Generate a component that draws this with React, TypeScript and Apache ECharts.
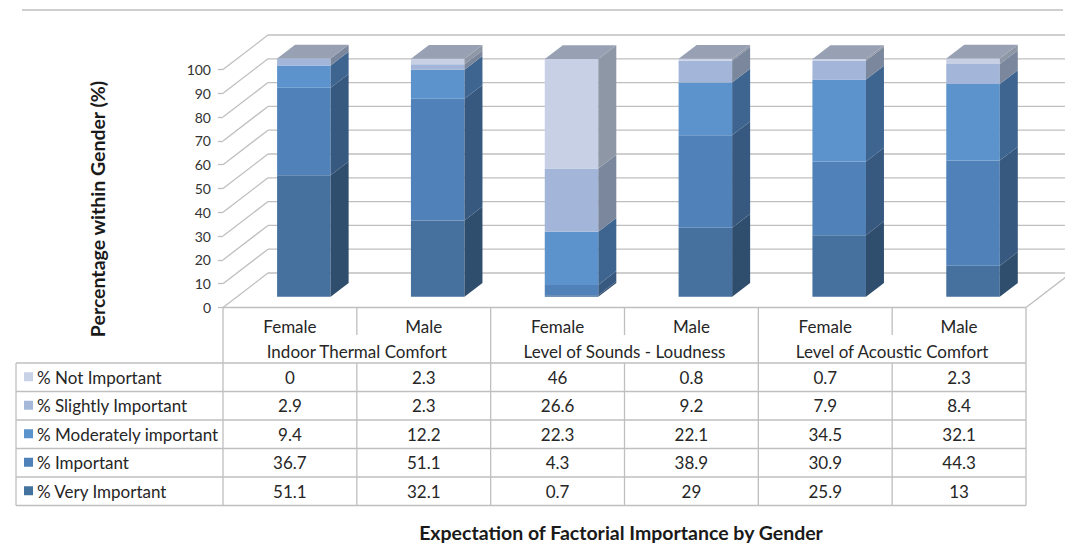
import React, { useEffect, useRef } from "react";
import * as echarts from "echarts";

// ---------------- data ----------------
const categories = ["Female", "Male", "Female", "Male", "Female", "Male"];
const groups = ["Indoor Thermal Comfort", "Level of Sounds - Loudness", "Level of Acoustic Comfort"];
const levelNames = [
  "% Not Important",
  "% Slightly Important",
  "% Moderately important",
  "% Important",
  "% Very Important",
];
const notImportant = [0, 2.3, 46, 0.8, 0.7, 2.3];
const slightlyImportant = [2.9, 2.3, 26.6, 9.2, 7.9, 8.4];
const moderatelyImportant = [9.4, 12.2, 22.3, 22.1, 34.5, 32.1];
const important = [36.7, 51.1, 4.3, 38.9, 30.9, 44.3];
const veryImportant = [51.1, 32.1, 0.7, 29, 25.9, 13];
const yTicks = [0, 10, 20, 30, 40, 50, 60, 70, 80, 90, 100];
const chartTitle = "Expectation of Factorial Importance by Gender";
const yTitle = "Percentage within Gender (%)";

// table order (top to bottom)
const tableRows = [notImportant, slightlyImportant, moderatelyImportant, important, veryImportant];
const frontColors = ["#c7d0e4", "#a3b6da", "#5c93cc", "#5081b8", "#46719e"];
const sideColors = ["#8e97a5", "#7a879c", "#3e6590", "#37597f", "#2f4d6d"];
const legendColors = ["#c8d2e6", "#a5b8da", "#5b93cd", "#4f81b9", "#44729f"];
const topColor = "#98a1b3";

// ---------------- layout / style ----------------
const W = 1065;
const H = 550;
const GRID_LEFT = 223;
const GRID_RIGHT_X = 1026;
const Y0 = 307.5;
const Y100 = 69.5;
const DX = 45;
const DY = 34.5;
const BAR_W = 0.4;
const BAR_OFF = 0.31;
const BAR_DEPTH = 0.4;
const FONT = "Lato, 'Open Sans', sans-serif";
const TEXT_COLOR = "#262626";
const LINE_COLOR = "#bfbfbf";
const TABLE_LEFT = 16;
const HEADER_MID = 335;
const ROW_TOP = 363;
const ROW_H = 28.5;
const TABLE_FS = 17;

// stacking order bottom -> top
const stackOrder = [4, 3, 2, 1, 0]; // indices into tableRows

function buildBarData(levelIdx: number) {
  const pos = stackOrder.indexOf(levelIdx);
  return categories.map((_, i) => {
    let base = 0;
    for (let k = 0; k < pos; k++) base += tableRows[stackOrder[k]][i];
    return [i, base, tableRows[levelIdx][i]];
  });
}

const totals = categories.map((_, i) => tableRows.reduce((s, r) => s + r[i], 0));

function barRender(levelIdx: number) {
  return (params: any, api: any) => {
    const cat = api.value(0);
    const base = api.value(1);
    const val = api.value(2);
    if (!(val > 0)) return { type: "group", children: [] };
    const p0 = api.coord([cat, base]);
    const p1 = api.coord([cat, base + val]);
    const band = api.size([1, 0])[0];
    const bw = band * BAR_W;
    const ox = DX * BAR_OFF;
    const oy = DY * BAR_OFF;
    const x0 = p0[0] - bw / 2 + ox;
    const yb = p0[1] - oy;
    const yt = p1[1] - oy;
    const ddx = DX * BAR_DEPTH;
    const ddy = DY * BAR_DEPTH;
    return {
      type: "group",
      children: [
        {
          type: "rect",
          shape: { x: x0, y: yt, width: bw, height: yb - yt },
          style: { fill: frontColors[levelIdx] },
        },
        {
          type: "polygon",
          shape: {
            points: [
              [x0 + bw, yb],
              [x0 + bw + ddx, yb - ddy],
              [x0 + bw + ddx, yt - ddy],
              [x0 + bw, yt],
            ],
          },
          style: { fill: sideColors[levelIdx] },
        },
      ],
    };
  };
}

function topRender(params: any, api: any) {
  const cat = api.value(0);
  const total = api.value(1);
  const p1 = api.coord([cat, total]);
  const band = api.size([1, 0])[0];
  const bw = band * BAR_W;
  const x0 = p1[0] - bw / 2 + DX * BAR_OFF;
  const yt = p1[1] - DY * BAR_OFF;
  const ddx = DX * BAR_DEPTH;
  const ddy = DY * BAR_DEPTH;
  return {
    type: "polygon",
    shape: {
      points: [
        [x0, yt],
        [x0 + bw, yt],
        [x0 + bw + ddx, yt - ddy],
        [x0 + ddx, yt - ddy],
      ],
    },
    style: { fill: topColor },
  };
}

function gridRender(params: any, api: any) {
  const v = api.value(1);
  const cs = params.coordSys;
  const p = api.coord([0, v]);
  const gx = cs.x;
  const gr = cs.x + cs.width;
  const y = p[1];
  const children: any[] = [
    {
      type: "line",
      shape: { x1: gx, y1: y, x2: gx + DX, y2: y - DY },
      style: { stroke: LINE_COLOR, lineWidth: 1.3 },
    },
    {
      type: "line",
      shape: { x1: gx + DX, y1: y - DY, x2: gr + DX, y2: y - DY },
      style: { stroke: LINE_COLOR, lineWidth: 1.3 },
    },
  ];
  if (v === 0) {
    children.push({
      type: "line",
      shape: { x1: gr, y1: y, x2: gr + DX, y2: y - DY },
      style: { stroke: LINE_COLOR, lineWidth: 1.3 },
    });
  }
  return { type: "group", children };
}

function buildTableGraphics() {
  const colW = (GRID_RIGHT_X - GRID_LEFT) / categories.length;
  const els: any[] = [];
  const line = (x1: number, y1: number, x2: number, y2: number) =>
    els.push({
      type: "line",
      shape: { x1, y1, x2, y2 },
      style: { stroke: LINE_COLOR, lineWidth: 1.3 },
      silent: true,
    });
  const rowsBottom = ROW_TOP + ROW_H * tableRows.length;
  // top border line
  line(22, 10, 1063, 10);
  // header frame
  line(GRID_LEFT, Y0, GRID_RIGHT_X, Y0);
  line(GRID_LEFT, Y0, GRID_LEFT, rowsBottom);
  line(GRID_RIGHT_X, Y0, GRID_RIGHT_X, rowsBottom);
  line(TABLE_LEFT, ROW_TOP, TABLE_LEFT, rowsBottom);
  for (let c = 1; c < categories.length; c++) {
    const x = GRID_LEFT + c * colW;
    if (c % 2 === 0) line(x, Y0, x, rowsBottom);
    else {
      line(x, Y0, x, HEADER_MID);
      line(x, ROW_TOP, x, rowsBottom);
    }
  }
  for (let r = 0; r <= tableRows.length; r++) {
    line(TABLE_LEFT, ROW_TOP + r * ROW_H, GRID_RIGHT_X, ROW_TOP + r * ROW_H);
  }
  // group labels
  groups.forEach((g, gi) => {
    els.push({
      type: "text",
      x: GRID_LEFT + (gi * 2 + 1) * colW,
      y: 351,
      style: {
        text: g,
        fontSize: TABLE_FS,
        fontFamily: FONT,
        fill: TEXT_COLOR,
        align: "center",
        verticalAlign: "middle",
      },
    });
  });
  // rows
  tableRows.forEach((row, r) => {
    const yc = ROW_TOP + r * ROW_H + ROW_H / 2;
    els.push({
      type: "rect",
      shape: { x: 24, y: yc - 5, width: 9, height: 9 },
      style: { fill: legendColors[r] },
    });
    els.push({
      type: "text",
      x: 37,
      y: yc,
      style: {
        text: levelNames[r],
        fontSize: TABLE_FS,
        fontFamily: FONT,
        fill: TEXT_COLOR,
        align: "left",
        verticalAlign: "middle",
      },
    });
    row.forEach((v, c) => {
      els.push({
        type: "text",
        x: GRID_LEFT + (c + 0.5) * colW,
        y: yc,
        style: {
          text: String(v),
          fontSize: TABLE_FS,
          fontFamily: FONT,
          fill: TEXT_COLOR,
          align: "center",
          verticalAlign: "middle",
        },
      });
    });
  });
  // titles
  els.push({
    type: "text",
    x: 621,
    y: 532,
    style: {
      text: chartTitle,
      fontSize: 19.5,
      fontWeight: "bold",
      fontFamily: FONT,
      fill: "#1a1a1a",
      align: "center",
      verticalAlign: "middle",
    },
  });
  els.push({
    type: "text",
    x: 97,
    y: 209,
    rotation: Math.PI / 2,
    style: {
      text: yTitle,
      fontSize: 19.5,
      fontWeight: "bold",
      fontFamily: FONT,
      fill: "#1a1a1a",
      align: "center",
      verticalAlign: "middle",
    },
  });
  return els;
}

export default function App() {
  const ref = useRef<HTMLDivElement>(null);
  useEffect(() => {
    if (!ref.current) return;
    const chart = echarts.init(ref.current, undefined, { renderer: "svg" });
    const series: any[] = [
      {
        type: "custom",
        name: "grid",
        z: 1,
        silent: true,
        data: yTicks.map((v) => [0, v]),
        renderItem: gridRender,
      },
    ];
    stackOrder.forEach((lv) => {
      series.push({
        type: "custom",
        name: levelNames[lv],
        z: 3,
        data: buildBarData(lv),
        renderItem: barRender(lv),
      });
    });
    series.push({
      type: "custom",
      name: "top",
      z: 4,
      data: totals.map((t, i) => [i, t]),
      renderItem: topRender,
    });
    chart.setOption({
      animation: false,
      backgroundColor: "#ffffff",
      textStyle: { fontFamily: FONT },
      grid: {
        left: GRID_LEFT,
        right: W - GRID_RIGHT_X,
        top: Y100,
        bottom: H - Y0,
        containLabel: false,
      },
      xAxis: {
        type: "category",
        data: categories,
        axisLine: { show: false },
        axisTick: { show: false },
        axisLabel: { fontSize: TABLE_FS, color: TEXT_COLOR, margin: 10, fontFamily: FONT },
        splitLine: { show: false },
      },
      yAxis: {
        type: "value",
        min: 0,
        max: 100,
        interval: 10,
        axisLine: { show: false },
        axisTick: { show: true, length: 5, lineStyle: { color: LINE_COLOR, width: 1.3 } },
        axisLabel: { fontSize: 14, color: "#333333", margin: 12, fontFamily: FONT },
        splitLine: { show: false },
      },
      series,
      graphic: { elements: buildTableGraphics() },
    });
    return () => chart.dispose();
  }, []);
  return (
    <div
      ref={ref}
      style={{ position: "fixed", left: 0, top: 0, width: W, height: H, background: "#fff" }}
    />
  );
}
